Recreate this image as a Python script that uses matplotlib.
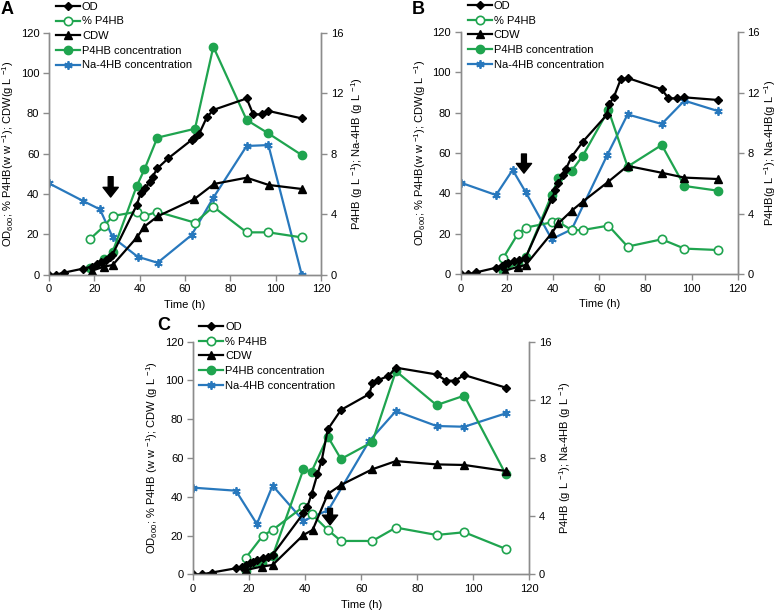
import matplotlib
matplotlib.use("Agg")
from matplotlib import pyplot as plt
from matplotlib.lines import Line2D

plt.rcParams['font.family'] = ['Liberation Sans', 'DejaVu Sans']
plt.rcParams['mathtext.fontset'] = 'custom'
plt.rcParams['mathtext.rm'] = 'Liberation Sans'
plt.rcParams['mathtext.it'] = 'Liberation Sans'

# ---------------- panel A ----------------
t_od_a = [0, 3, 6.5, 15, 19, 21, 23, 25, 27, 28, 38.7, 40.4, 42.4, 44.5, 45.7, 47.8, 52.6,
          62.9, 64, 66.3, 69.6, 72.5, 87.2, 90.1, 93.8, 96.8, 111.5]
od_a = [0, 0, 1, 3, 4, 5.5, 6.5, 7.5, 9, 10, 34.5, 40.3, 42.8, 46, 48.6, 52.7, 57.7,
        66.8, 68, 70, 78, 81.7, 87.4, 79.5, 79.5, 81.2, 77.5]
t_cdw_a = [19, 24.3, 28.1, 39, 42, 48, 64, 72.8, 87.2, 96.9, 111.6]
cdw_a = [2, 4, 4.8, 18.8, 23.8, 29, 37.4, 45, 48.1, 44.5, 42.5]
t_pct_a = [18.1, 24.3, 28.1, 38.7, 42.1, 47.8, 64.4, 72.5, 87.2, 96.8, 111.5]
pct_a = [17.7, 24.1, 29.1, 31.2, 29.1, 31.2, 25.8, 33.7, 21, 21, 18.5]
t_p4hb_a = [18.1, 24.3, 28.1, 38.7, 42.1, 47.8, 64.4, 72.5, 87.2, 96.8, 111.5]
p4hb_a = [0.42, 1.01, 1.52, 5.86, 6.96, 9.06, 9.65, 15.07, 10.23, 9.34, 7.91]
t_na_a = [0, 15.1, 22.5, 28.1, 39.1, 47.9, 62.9, 72.5, 87.2, 96.8, 111.5]
na_a = [6.04, 4.87, 4.32, 2.47, 1.19, 0.79, 2.62, 5.09, 8.51, 8.57, 0]

# ---------------- panel B ----------------
t_od_b = [0, 3.3, 6.6, 15.3, 17.8, 19.2, 20.6, 23.1, 25.4, 28, 39.4, 41, 42.3, 44.5, 45.5,
          48.1, 52.9, 63.2, 64.3, 66.4, 69.3, 72.3, 87.1, 90, 93.6, 96.9, 111.3]
od_b = [0, 0, 0.8, 3.1, 4.1, 4.8, 5.6, 6.4, 7, 7.8, 37, 41.6, 45.3, 49, 51.9,
        58.2, 65.6, 78.8, 84.1, 87.9, 96.5, 97.2, 91.6, 87.1, 87.1, 87.6, 86.3]
t_cdw_b = [19.2, 25, 28.2, 39.4, 42.3, 48.1, 52.9, 64, 72.3, 87.1, 96.9, 111.3]
cdw_b = [1.7, 3.6, 4.5, 20.2, 25.1, 31.4, 35.9, 45.8, 53.6, 50.2, 47.8, 47.1]
t_pct_b = [18.5, 24.7, 28.2, 39.4, 42, 48.1, 52.9, 64, 72.3, 87.1, 96.9, 111.3]
pct_b = [8.1, 19.8, 23, 25.6, 26, 21.8, 21.8, 24, 13.6, 17.2, 12.6, 11.9]
t_p4hb_b = [18.5, 24.7, 28.2, 39.4, 42.3, 48.1, 52.9, 64, 72.3, 87.1, 96.9, 111.3]
p4hb_b = [0.22, 0.7, 1.1, 5.22, 6.33, 6.83, 7.82, 10.84, 7.1, 8.53, 5.82, 5.51]
t_na_b = [0, 15.3, 22.5, 28.2, 39.4, 48.1, 63.5, 72.3, 87.1, 96.9, 111.3]
na_b = [6.04, 5.22, 6.88, 5.4, 2.31, 2.95, 7.87, 10.55, 9.92, 11.46, 10.78]

# ---------------- panel C ----------------
t_od_c = [0, 3.1, 6.7, 15.3, 17.4, 18.9, 20.3, 21.5, 22.7, 25.1, 26.9, 28.4, 39.4, 40.8,
          42.3, 44.4, 45.9, 48.1, 52.8, 62.9, 64, 66.1, 69.7, 72.4, 86.9, 90.3, 93.5, 96.8, 111.6]
od_c = [0, 0, 0.9, 3.1, 4, 4.6, 5.7, 6.5, 7.4, 8.3, 8.8, 10, 31.5, 34.9,
        41.3, 51.7, 58.6, 74.8, 84.8, 93, 98.5, 100.2, 102.3, 106.6, 103.1, 99.9, 99.9, 102.8, 96.3]
t_cdw_c = [18.9, 24.5, 28.4, 39.4, 42.7, 48.1, 52.8, 64, 72.4, 86.9, 96.8, 111.6]
cdw_c = [2.2, 4, 4.8, 20.3, 22.9, 41.4, 46.1, 54.2, 58.4, 56.7, 56.4, 53.3]
t_pct_c = [18.9, 24.9, 28.4, 39.4, 42.3, 48.1, 52.8, 64, 72.4, 86.9, 96.8, 111.6]
pct_c = [8.6, 19.9, 22.9, 34.9, 31.1, 22.9, 17.2, 17.2, 24.1, 20.3, 21.7, 13.1]
t_p4hb_c = [18.9, 24.5, 28.4, 39.4, 42.3, 48.1, 52.8, 64, 72.4, 86.9, 96.8, 111.6]
p4hb_c = [0.23, 0.76, 1.26, 7.22, 7.06, 9.47, 7.93, 9.1, 13.98, 11.64, 12.29, 6.88]
t_na_c = [0, 15.3, 22.8, 28.4, 39.4, 48.3, 62.9, 72.4, 86.9, 96.8, 111.6]
na_c = [5.96, 5.75, 3.46, 6.1, 3.68, 4.42, 9.17, 11.23, 10.2, 10.15, 11.07]

# feeding arrows (time, top, tip) in left-axis units
arrow_a = (27.2, 48.6, 38.5)
arrow_b = (27.4, 59.5, 50)
arrow_c = (48.9, 34, 25.5)

GREEN = '#1fa44f'
BLUE = '#2878bd'
GRAY = '#8c8c8c'
W, H = 778, 613


def draw_panel(rect, data, arrow, ylab, ylab2, leg_xy, pad2=4):
    (t_od, od, t_pct, pct, t_cdw, cdw, t_p4, p4, t_na, na) = data
    ax = fig.add_axes(rect)
    ax2 = ax.twinx()
    ax.set_zorder(ax2.get_zorder() + 1)
    ax.patch.set_visible(False)

    ax2.plot(t_na, na, color=BLUE, lw=1.6, marker=(6, 2, 0), ms=6, mew=1.3, label='Na-4HB concentration')
    ax2.plot(t_p4, p4, color=GREEN, lw=1.6, marker='o', ms=6, label='P4HB concentration')
    ax.plot(t_pct, pct, color=GREEN, lw=1.6, marker='o', ms=6, mfc='white', mew=1.2, label='% P4HB')
    ax.plot(t_cdw, cdw, color='black', lw=1.6, marker='^', ms=6, label='CDW')
    ax.plot(t_od, od, color='black', lw=1.6, marker='D', ms=4, label='OD')

    ax.annotate('', xy=(arrow[0], arrow[2]), xytext=(arrow[0], arrow[1]),
                arrowprops=dict(facecolor='black', edgecolor='black', width=3.5,
                                headwidth=11, headlength=7))

    ax.set_xlim(0, 120)
    ax.set_ylim(0, 120)
    ax2.set_ylim(0, 16)
    ax.set_xticks(range(0, 121, 20))
    ax.set_yticks(range(0, 121, 20))
    ax2.set_yticks(range(0, 17, 4))
    for a in (ax, ax2):
        a.spines['top'].set_visible(False)
        for s in ('left', 'right', 'bottom'):
            a.spines[s].set_color(GRAY)
            a.spines[s].set_linewidth(1.0)
        a.tick_params(colors=GRAY, labelcolor='black', labelsize=8, length=4, width=1, pad=3)
    ax.set_xlabel('Time (h)', fontsize=8, labelpad=4)
    ax.set_ylabel(ylab, fontsize=8, labelpad=3)
    ax2.set_ylabel(ylab2, fontsize=8, labelpad=pad2)

    handles = [Line2D([], [], color='black', lw=1.6, marker='D', ms=4),
               Line2D([], [], color=GREEN, lw=1.6, marker='o', ms=6, mfc='white', mew=1.2),
               Line2D([], [], color='black', lw=1.6, marker='^', ms=6),
               Line2D([], [], color=GREEN, lw=1.6, marker='o', ms=6),
               Line2D([], [], color=BLUE, lw=1.6, marker=(6, 2, 0), ms=6, mew=1.3)]
    labels = ['OD', '% P4HB', 'CDW', 'P4HB concentration', 'Na-4HB concentration']
    ax.legend(handles, labels, loc='upper left', bbox_to_anchor=leg_xy, frameon=False,
              fontsize=8, handlelength=2.2, handletextpad=0.15, labelspacing=0.42,
              borderpad=0, borderaxespad=0)
    return ax


fig = plt.figure(figsize=(7.78, 6.13), dpi=100)

lab_a = r'OD$_{600}$; % P4HB(w w $^{-1}$); CDW(g L $^{-1}$)'
lab_c = r'OD$_{600}$; % P4HB (w w $^{-1}$); CDW (g L $^{-1}$)'

draw_panel([49 / W, 1 - 274.7 / H, 272 / W, 242 / H],
           (t_od_a, od_a, t_pct_a, pct_a, t_cdw_a, cdw_a, t_p4hb_a, p4hb_a, t_na_a, na_a),
           arrow_a, lab_a, r'P4HB (g L $^{-1}$); Na-4HB (g L $^{-1}$)', (0.025, 1.128))
draw_panel([460.7 / W, 1 - 274 / H, 277 / W, 242 / H],
           (t_od_b, od_b, t_pct_b, pct_b, t_cdw_b, cdw_b, t_p4hb_b, p4hb_b, t_na_b, na_b),
           arrow_b, lab_a, r'P4HB(g L $^{-1}$); Na-4HB(g L $^{-1}$)', (0.025, 1.128), pad2=2)
draw_panel([193 / W, 1 - 574.3 / H, 336.3 / W, 232.6 / H],
           (t_od_c, od_c, t_pct_c, pct_c, t_cdw_c, cdw_c, t_p4hb_c, p4hb_c, t_na_c, na_c),
           arrow_c, lab_c, r'P4HB (g L $^{-1}$); Na-4HB (g L $^{-1}$)', (0.018, 1.085))

fig.text(1 / W, 1 - 10 / H, 'A', fontsize=13, fontweight='bold', va='center')
fig.text(412 / W, 1 - 10 / H, 'B', fontsize=13, fontweight='bold', va='center')
fig.text(157 / W, 1 - 326 / H, 'C', fontsize=13, fontweight='bold', va='center')

fig.savefig('out.png', dpi=100)
